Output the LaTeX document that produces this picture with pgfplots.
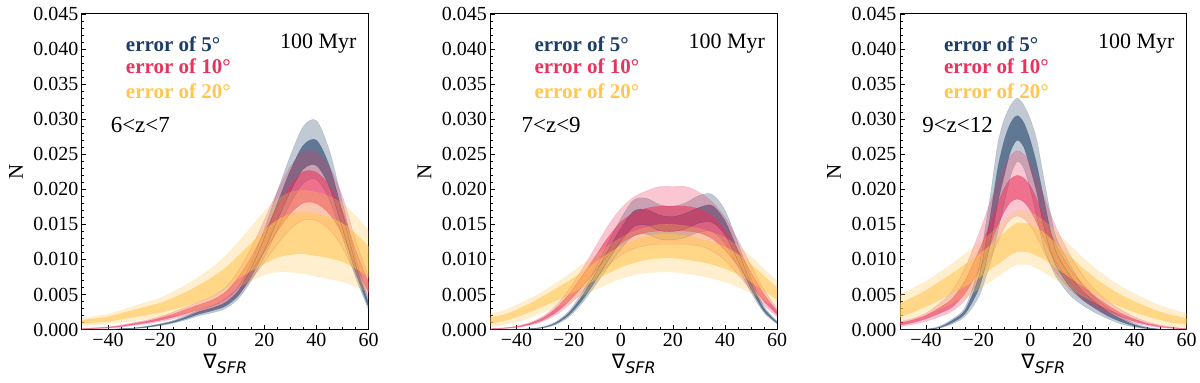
\documentclass[border=0pt]{standalone}
\usepackage{fontspec}
\setmainfont{Liberation Serif}
\newfontfamily\dejavu{DejaVu Sans}
\usepackage{pgfplots}
\pgfplotsset{compat=1.18}
\usepackage{pgfplotstable}
\usepgfplotslibrary{fillbetween}

\definecolor{cB}{RGB}{28,62,102}
\definecolor{cR}{RGB}{232,52,92}
\definecolor{cY}{RGB}{255,198,82}

% values in units of 1e-3
% ---------------- Panel 1 : 6<z<7
\pgfplotstableread{
x lo ilo ihi hi
-50 0 0 0 0
-45 0 0 0 0
-40 0.02 0.03 0.03 0.04
-35 0.08 0.09 0.11 0.12
-30 0.15 0.18 0.22 0.25
-25 0.3 0.36 0.44 0.5
-20 0.55 0.64 0.76 0.85
-15 0.9 1.02 1.18 1.3
-10 1.4 1.58 1.82 2.0
-5 2.0 2.23 2.57 2.8
0 2.4 2.7 3.1 3.4
5 3.0 3.35 3.85 4.2
10 4.4 4.84 5.56 6.1
15 7.0 7.6 8.8 9.6
20 10.4 11.3 13.1 14.3
25 14.3 15.6 18.0 19.7
30 18.0 19.7 22.7 24.8
35 20.9 22.9 26.3 29.0
40 21.4 23.4 27.0 29.8
45 18.5 20.3 23.3 25.5
50 13.2 14.4 16.6 18.1
55 7.5 8.2 9.4 10.3
60 2.8 3.2 3.8 4.3
}\tAb
\pgfplotstableread{
x lo ilo ihi hi
-50 0.05 0.08 0.12 0.15
-45 0.12 0.17 0.23 0.28
-40 0.2 0.26 0.34 0.4
-35 0.35 0.44 0.56 0.65
-30 0.6 0.71 0.89 1.0
-25 0.85 0.98 1.22 1.38
-20 1.15 1.34 1.67 1.88
-15 1.54 1.78 2.22 2.5
-10 2.0 2.31 2.89 3.25
-5 2.46 2.85 3.55 4.0
0 2.93 3.38 4.22 4.75
5 3.7 4.27 5.33 6.0
10 5.16 5.96 7.44 8.38
15 7.16 8.28 10.32 11.63
20 9.63 11.13 13.88 15.63
25 12.17 14.06 17.54 19.75
30 14.32 16.55 20.65 23.25
35 15.63 18.07 22.53 25.38
40 15.55 17.98 22.42 25.25
45 14.25 16.47 20.54 23.13
50 11.7 13.53 16.87 19.0
55 7.85 9.08 11.32 12.75
60 4.62 5.34 6.66 7.5
}\tAr
\pgfplotstableread{
x lo ilo ihi hi
-50 0.6 0.86 1.34 1.6
-45 0.72 1.01 1.59 1.89
-40 0.83 1.17 1.83 2.18
-35 1.05 1.48 2.32 2.76
-30 1.27 1.79 2.81 3.34
-25 1.49 2.11 3.29 3.92
-20 1.71 2.42 3.78 4.5
-15 2.04 2.89 4.51 5.37
-10 2.42 3.43 5.37 6.38
-5 2.86 4.06 6.34 7.54
0 3.36 4.76 7.44 8.85
5 4.6 5.9 8.78 10.44
10 6.0 7.3 10.49 12.47
15 7.0 8.4 12.32 14.65
20 7.8 9.4 14.15 16.82
25 8.2 10.3 15.62 18.56
30 8.2 10.7 16.47 19.58
35 8.0 10.8 16.71 19.87
40 7.6 10.53 16.47 19.58
45 7.21 10.22 15.98 19.0
50 6.82 9.67 15.13 17.98
55 6.16 8.74 13.66 16.24
60 5.34 7.57 11.83 14.07
}\tAy
% ---------------- Panel 2 : 7<z<9
\pgfplotstableread{
x lo ilo ihi hi
-50 0 0 0 0
-45 0 0 0 0
-40 0.01 0.02 0.02 0.03
-35 0.07 0.09 0.11 0.13
-30 0.22 0.27 0.33 0.38
-25 0.7 0.83 0.97 1.1
-20 1.8 2.05 2.35 2.6
-15 3.7 4.1 4.7 5.2
-10 6.2 6.8 7.8 8.5
-5 8.9 9.8 11.2 12.3
0 11.5 12.6 14.4 15.8
5 13.4 14.7 16.9 18.5
10 13.6 14.9 17.1 18.7
15 12.9 14.1 16.3 17.8
20 12.8 14.0 16.1 17.6
25 13.2 14.4 16.6 18.1
30 13.9 15.2 17.4 19.1
35 14.0 15.3 17.7 19.3
40 12.3 13.5 15.5 17.0
45 8.9 9.8 11.2 12.3
50 5.3 5.8 6.6 7.3
55 2.4 2.6 3.0 3.3
60 0.8 0.93 1.07 1.2
}\tBb
\pgfplotstableread{
x lo ilo ihi hi
-50 0.05 0.08 0.12 0.15
-45 0.14 0.18 0.22 0.26
-40 0.3 0.36 0.44 0.5
-35 0.6 0.71 0.89 1.0
-30 1.15 1.34 1.67 1.88
-25 2.08 2.4 3.0 3.38
-20 3.47 4.0 5.0 5.63
-15 5.24 6.05 7.55 8.5
-10 7.16 8.28 10.32 11.63
-5 9.09 10.5 13.1 14.75
0 10.63 12.28 15.32 17.25
5 11.55 13.35 16.65 18.9
10 12.01 13.88 17.32 19.8
15 12.17 14.06 17.6 20.4
20 12.17 14.06 17.6 20.4
25 12.17 14.06 17.6 20.4
30 11.94 13.8 17.2 19.6
35 11.24 12.99 16.21 18.25
40 9.86 11.39 14.21 16.0
45 7.85 9.08 11.32 12.75
50 5.62 6.5 8.1 9.13
55 3.47 4.0 5.0 5.63
60 1.85 2.14 2.66 3.0
}\tBr
\pgfplotstableread{
x lo ilo ihi hi
-50 0.4 0.9 1.7 2.3
-45 0.7 1.25 2.1 2.7
-40 1.1 1.8 2.8 3.5
-35 1.7 2.5 3.7 4.4
-30 2.4 3.3 4.7 5.4
-25 3.1 4.1 5.8 6.6
-20 3.9 5.0 6.9 7.8
-15 4.8 6.0 8.2 9.2
-10 5.7 7.0 9.5 10.5
-5 6.5 8.0 10.8 11.9
0 7.3 8.9 11.9 13.1
5 7.8 9.5 12.7 14.0
10 8.1 10.0 13.3 14.6
15 8.2 10.2 13.6 15.0
20 8.2 10.2 13.6 15.0
25 8.0 10.0 13.4 14.8
30 7.7 9.7 13.0 14.4
35 7.3 9.3 12.5 13.9
40 6.8 8.7 11.8 13.1
45 6.1 7.9 10.7 11.9
50 5.2 6.8 9.3 10.4
55 4.2 5.5 7.6 8.6
60 3.2 4.3 6.0 6.9
}\tBy
% ---------------- Panel 3 : 9<z<12
\pgfplotstableread{
x lo ilo ihi hi
-50 0 0 0 0
-45 0 0 0 0.01
-40 0.03 0.04 0.06 0.08
-35 0.2 0.26 0.34 0.45
-30 0.8 1.0 1.3 1.5
-25 1.9 2.3 2.8 3.2
-20 4.5 5.6 7.2 8.5
-17.5 7.0 8.8 11.5 14.0
-15 10.0 13.0 17.0 20.0
-12.5 14.0 18.0 23.0 26.5
-10 18.0 22.0 27.0 30.0
-7.5 22.0 25.5 29.5 32.0
-5 24.0 27.0 30.5 33.0
-2.5 23.0 26.0 29.5 32.0
0 20.0 23.0 27.0 30.0
2.5 16.0 19.5 23.5 27.0
5 12.0 15.0 19.0 22.0
7.5 9.5 11.5 14.5 17.0
10 7.5 9.0 11.0 13.0
15 5.0 6.2 7.8 9.4
20 3.5 4.3 5.5 6.3
25 2.4 3.0 3.9 4.5
30 1.5 1.9 2.5 3.0
35 0.8 1.1 1.5 1.8
40 0.35 0.5 0.7 0.9
45 0.1 0.15 0.25 0.35
50 0.02 0.03 0.06 0.08
55 0 0 0 0.01
60 0 0 0 0
}\tCb
\pgfplotstableread{
x lo ilo ihi hi
-50 0.45 0.65 0.95 1.1
-45 0.75 1.0 1.4 1.6
-40 1.2 1.55 2.05 2.35
-35 1.8 2.3 3.1 3.7
-30 2.6 3.2 4.4 5.5
-25 4.2 5.2 7.0 8.8
-20 6.8 8.3 11.0 13.5
-17.5 8.5 10.2 13.2 16.0
-15 10.5 12.5 15.7 18.5
-12.5 12.5 14.8 18.0 21.0
-10 14.5 16.8 20.2 23.3
-7.5 15.8 18.2 21.5 24.8
-5 16.2 18.6 22.0 25.5
-2.5 15.8 18.2 21.6 25.0
0 14.8 17.0 20.5 23.8
2.5 13.2 15.2 18.6 21.8
5 11.3 13.2 16.4 19.3
7.5 9.5 11.2 14.2 16.8
10 8.0 9.5 12.0 14.5
15 5.8 6.9 8.8 10.8
20 4.2 5.0 6.5 7.8
25 3.1 3.6 4.7 5.6
30 2.2 2.6 3.4 4.0
35 1.5 1.8 2.3 2.8
40 0.95 1.15 1.5 1.8
45 0.55 0.7 0.9 1.1
50 0.3 0.4 0.5 0.65
55 0.15 0.22 0.28 0.35
60 0.05 0.09 0.11 0.15
}\tCr
\pgfplotstableread{
x lo ilo ihi hi
-50 1.0 1.8 3.7 5.0
-45 1.5 2.5 4.6 5.9
-40 2.2 3.3 5.6 6.9
-35 2.9 4.2 6.8 8.1
-30 3.8 5.2 8.0 9.4
-25 4.7 6.2 9.3 10.8
-20 5.7 7.3 10.6 12.2
-17.5 6.35 8.0 11.35 13.0
-15 7.0 8.7 12.1 13.8
-12.5 7.6 9.35 12.95 14.65
-10 8.2 10.0 13.8 15.5
-7.5 8.9 10.7 14.6 16.4
-5 9.3 11.1 15.2 17.0
-2.5 9.3 11.1 15.2 17.0
0 9.2 11.0 15.0 16.8
2.5 8.75 10.55 14.45 16.2
5 8.3 10.1 13.9 15.6
7.5 7.7 9.45 13.05 14.75
10 7.1 8.8 12.2 13.9
15 5.9 7.5 10.5 12.1
20 4.8 6.2 8.8 10.3
25 3.8 5.1 7.3 8.7
30 2.9 4.0 6.0 7.3
35 2.2 3.2 4.9 6.1
40 1.6 2.5 4.0 5.1
45 1.1 1.9 3.2 4.2
50 0.7 1.4 2.5 3.4
55 0.45 1.0 2.0 2.8
60 0.3 0.8 1.6 2.3
}\tCy

\newcommand\band[3]{% table, colour, unique prefix
  \addplot[draw=#2, draw opacity=0.2, line width=0.4pt, smooth, name path=#3lo] table[x=x,y=lo]{#1};
  \addplot[draw=#2, draw opacity=0.2, line width=0.4pt, smooth, name path=#3hi] table[x=x,y=hi]{#1};
  \addplot[draw=#2, draw opacity=0.35, line width=0.4pt, smooth, name path=#3ilo] table[x=x,y=ilo]{#1};
  \addplot[draw=#2, draw opacity=0.35, line width=0.4pt, smooth, name path=#3ihi] table[x=x,y=ihi]{#1};
  \addplot[#2, fill opacity=0.28, draw=none] fill between[of=#3lo and #3hi];
  \addplot[#2, fill opacity=0.58, draw=none] fill between[of=#3ilo and #3ihi];
}

\newcommand\lab[1]{%
  \node[anchor=west, inner sep=0pt, text=cB, font=\bfseries\fontsize{21}{21}\selectfont] at (rel axis cs:0.153,0.905) {error of 5°};
  \node[anchor=west, inner sep=0pt, text=cR, font=\bfseries\fontsize{21}{21}\selectfont] at (rel axis cs:0.153,0.833) {error of 10°};
  \node[anchor=west, inner sep=0pt, text=cY, font=\bfseries\fontsize{21}{21}\selectfont] at (rel axis cs:0.153,0.755) {error of 20°};
  \node[anchor=east, inner sep=0pt, font=\fontsize{22}{22}\selectfont] at (rel axis cs:0.958,0.905) {100 Myr};
}

\pgfplotsset{panel/.style={
  width=287pt, height=316pt, scale only axis, anchor=south west,
  xmin=-50, xmax=60, ymin=0, ymax=45,
  xtick={-40,-20,0,20,40,60},
  xticklabels={\textrm{−40},\textrm{−20},\textrm{0},\textrm{20},\textrm{40},\textrm{60}},
  ytick={0,5,10,15,20,25,30,35,40,45},
  yticklabels={\textrm{0.000},\textrm{0.005},\textrm{0.010},\textrm{0.015},\textrm{0.020},\textrm{0.025},\textrm{0.030},\textrm{0.035},\textrm{0.040},\textrm{0.045}},
  minor x tick num=3, minor y tick num=4,
  tick align=inside, xtick pos=bottom, ytick pos=left,
  major tick length=4.5pt, minor tick length=2.5pt,
  every tick/.style={black, line width=0.7pt},
  axis line style={line width=1pt},
  ticklabel style={font=\fontsize{20}{20}\selectfont},
  /pgf/number format/assume math mode=true,
  xlabel={{\dejavu\fontsize{20}{20}\selectfont ∇\raisebox{-0.45ex}{\fontsize{16}{16}\selectfont\itshape SFR}}},
  xlabel style={at={(rel axis cs:0.5,0)}, anchor=center, yshift=-34pt},
  ylabel={N},
  ylabel style={font=\fontsize{21}{21}\selectfont, at={(rel axis cs:0,0.5)}, anchor=center, rotate=0, yshift=66pt},
}}

\begin{document}
\begin{tikzpicture}
\path (0,0) rectangle (1200pt,383pt);

\begin{axis}[panel, at={(82pt,53pt)}]
\band{\tAb}{cB}{pab}
\band{\tAr}{cR}{par}
\band{\tAy}{cY}{pay}
\lab{}
\node[anchor=west, inner sep=0pt, font=\fontsize{23}{23}\selectfont] at (rel axis cs:0.10,0.649) {6<z<7};
\end{axis}

\begin{axis}[panel, at={(491pt,53pt)}]
\band{\tBb}{cB}{pbb}
\band{\tBr}{cR}{pbr}
\band{\tBy}{cY}{pby}
\lab{}
\node[anchor=west, inner sep=0pt, font=\fontsize{23}{23}\selectfont] at (rel axis cs:0.108,0.649) {7<z<9};
\end{axis}

\begin{axis}[panel, at={(901pt,53pt)}]
\band{\tCb}{cB}{pcb}
\band{\tCr}{cR}{pcr}
\band{\tCy}{cY}{pcy}
\lab{}
\node[anchor=west, inner sep=0pt, font=\fontsize{23}{23}\selectfont] at (rel axis cs:0.077,0.649) {9<z<12};
\end{axis}
\end{tikzpicture}
\end{document}
